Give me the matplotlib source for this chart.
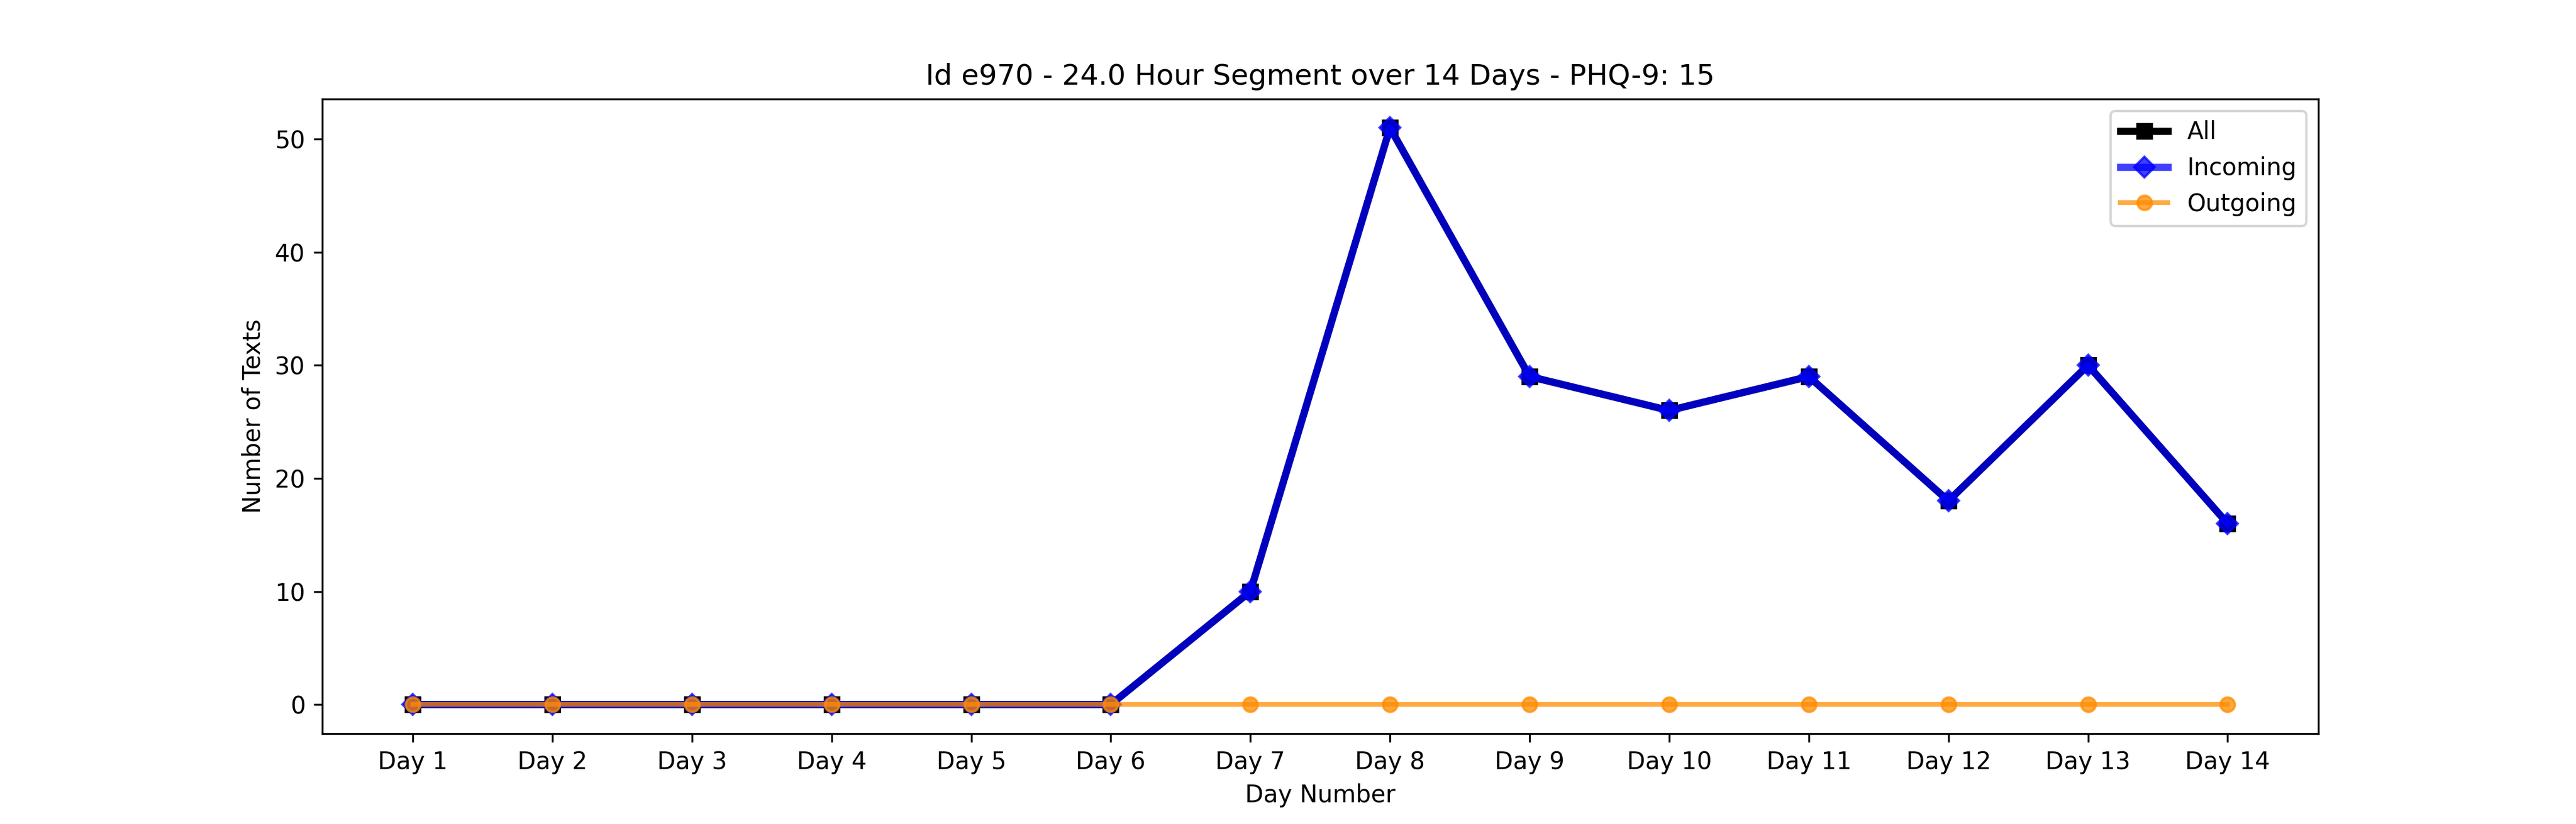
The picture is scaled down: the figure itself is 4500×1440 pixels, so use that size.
import numpy as np
import matplotlib
matplotlib.use('Agg')
import matplotlib.pyplot as plt

days = [f'Day {i}' for i in range(1, 15)]
all_texts = [0, 0, 0, 0, 0, 0, 10, 51, 29, 26, 29, 18, 30, 16]
incoming = [0, 0, 0, 0, 0, 0, 10, 51, 29, 26, 29, 18, 30, 16]
outgoing = [0, 0, 0, 0, 0, 0, 0, 0, 0, 0, 0, 0, 0, 0]

fig, ax = plt.subplots(figsize=(15, 4.8), dpi=300)
ax.plot(days, all_texts, color='black', marker='s', linewidth=3, label='All')
ax.plot(days, incoming, color='blue', marker='D', linewidth=3, alpha=0.75, label='Incoming')
ax.plot(days, outgoing, color='darkorange', marker='o', linewidth=2, alpha=0.75, label='Outgoing')
ax.set_title('Id e970 - 24.0 Hour Segment over 14 Days - PHQ-9: 15')
ax.set_xlabel('Day Number')
ax.set_ylabel('Number of Texts')
ax.legend(loc='upper right')
plt.savefig('out.png', dpi=300)
